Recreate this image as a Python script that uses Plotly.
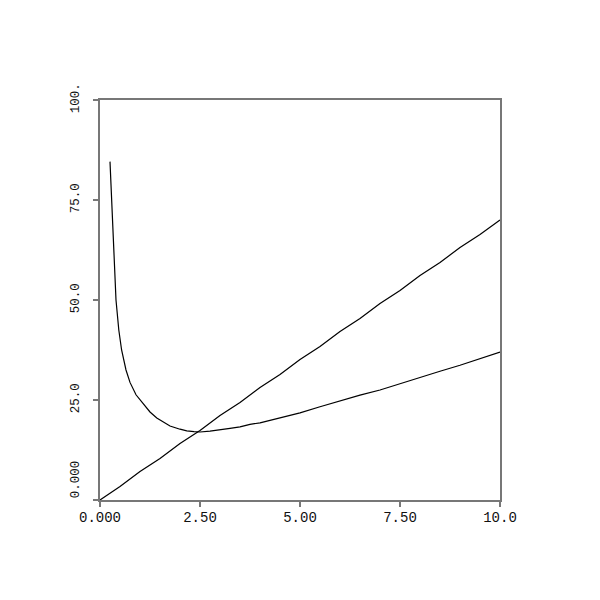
import plotly.graph_objects as go

# Linear series
lin_x = [0.0, 0.5, 1.0, 1.5, 2.0, 2.5, 3.0, 3.5, 4.0, 4.5, 5.0, 5.5, 6.0, 6.5, 7.0, 7.5, 8.0, 8.5, 9.0, 9.5, 10.0]
lin_y = [0.0, 3.4, 7.1, 10.4, 14.1, 17.4, 21.1, 24.4, 28.1, 31.4, 35.1, 38.4, 42.1, 45.4, 49.1, 52.4, 56.1, 59.4, 63.1, 66.4, 70.0]

# Curved series
cur_x = [0.25, 0.29, 0.33, 0.40, 0.47, 0.54, 0.65, 0.75, 0.90, 1.08, 1.25, 1.42, 1.60, 1.75, 2.00, 2.17, 2.35, 2.50,
         2.75, 3.00, 3.25, 3.50, 3.75, 4.00, 4.50, 5.00, 5.50, 6.00, 6.50, 7.00, 7.50, 8.00, 8.50, 9.00, 9.50, 10.0]
cur_y = [84.6, 75.0, 62.5, 50.0, 42.5, 37.5, 32.5, 29.4, 26.3, 24.0, 22.0, 20.5, 19.3, 18.5, 17.7, 17.3, 17.1, 17.0,
         17.2, 17.5, 17.9, 18.3, 18.9, 19.3, 20.5, 21.8, 23.3, 24.8, 26.2, 27.5, 29.1, 30.6, 32.2, 33.7, 35.4, 37.0]

x_tickvals = [0, 2.5, 5, 7.5, 10]
x_ticktext = ["0.000", "2.50", "5.00", "7.50", "10.0"]
y_tickvals = [0, 25, 50, 75, 100]
y_ticktext = ["\u00a0\u00a0\u00a0\u00a0\u00a00.000", "25.0", "50.0", "75.0", "100."]

fig = go.Figure()
fig.add_trace(go.Scatter(x=lin_x, y=lin_y, mode="lines", line=dict(color="black", width=1.2), showlegend=False))
fig.add_trace(go.Scatter(x=cur_x, y=cur_y, mode="lines", line=dict(color="black", width=1.2), showlegend=False))

fam = "Liberation Mono, Courier New, monospace"
axis_common = dict(showgrid=False, zeroline=False, showline=True, linecolor="#777777", linewidth=2,
                   mirror=True, ticks="outside", ticklen=5, tickwidth=2, tickcolor="#777777", automargin=False)

fig.update_layout(
    width=592, height=592,
    margin=dict(l=92, r=100, t=92, b=100),
    paper_bgcolor="white", plot_bgcolor="white",
    xaxis=dict(range=[0, 10], tickvals=x_tickvals, ticktext=x_ticktext,
               tickfont=dict(family=fam, size=14, color="#111111"), ticklabelstandoff=-2, **axis_common),
    yaxis=dict(range=[0, 100], tickvals=y_tickvals, ticktext=y_ticktext, tickangle=-90,
               tickfont=dict(family=fam, size=12.5, color="#111111"), ticklabelstandoff=9, **axis_common),
)

fig.write_html("out.html")
